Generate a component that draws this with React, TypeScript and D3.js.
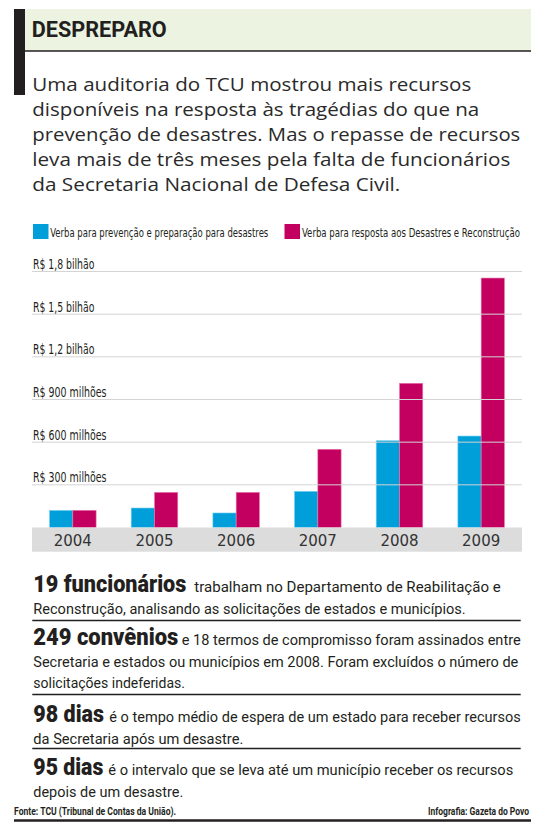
import React from 'react';
import * as d3 from 'd3';

const years = ['2004', '2005', '2006', '2007', '2008', '2009'];
const prevencao = [120, 137, 102, 254, 610, 643];
const resposta = [121, 247, 247, 550, 1014, 1754];
const yTicks = [300, 600, 900, 1200, 1500, 1800];
const yTickLabels = ['R$ 300 milhões', 'R$ 600 milhões', 'R$ 900 milhões', 'R$ 1,2 bilhão', 'R$ 1,5 bilhão', 'R$ 1,8 bilhão'];
const seriesNames = ['Verba para prevenção e preparação para desastres', 'Verba para resposta aos Desastres e Reconstrução'];
const seriesColors = ['#009fda', '#c3005f'];
const seriesStroke = ['#6fcdf0', '#e77aad'];

const title = 'DESPREPARO';
const introLines = [
  'Uma auditoria  do TCU mostrou mais recursos',
  'disponíveis na resposta às tragédias do que na',
  'prevenção de desastres. Mas o repasse de recursos',
  'leva mais de três meses pela falta de funcionários',
  'da Secretaria Nacional de Defesa Civil.',
];
const introWidths = [439, 447, 488, 478, 368];

const facts = [
  { bold: '19 funcionários', rest: 'trabalham no Departamento de Reabilitação e', more: ['Reconstrução, analisando as solicitações de estados e municípios.'] },
  { bold: '249 convênios', rest: 'e 18 termos de compromisso foram assinados entre', more: ['Secretaria e estados ou municípios em 2008. Foram excluídos o número de', 'solicitações indeferidas.'] },
  { bold: '98 dias', rest: 'é o tempo médio de espera de um estado para receber recursos', more: ['da Secretaria após um desastre.'] },
  { bold: '95 dias', rest: 'é o intervalo que se leva até um município receber os recursos', more: ['depois de um desastre.'] },
];
const factBoldW = [153, 145, 70.7, 70];
const factRestX = [194.3, 181.7, 109.3, 108.3];
const factRestEnd = [500.7, 520.7, 520.7, 513.3];
const factMoreW = [[432.4], [485, 151.7], [210], [150]];
const factY = [592.3, 645, 722, 775];
const sepY = [620.5, 694.5, 748.5];

const source = 'Fonte: TCU (Tribunal de Contas da União).';
const credit = 'Infografia: Gazeta do Povo';

const T = ({ x, y, w, size, weight = 400, family = 'Roboto', fill = '#231f20', anchor = 'start', children }: any) => (
  <text x={x} y={y} fontSize={size} fontWeight={weight} fontFamily={family} fill={fill} textAnchor={anchor}
    textLength={w} lengthAdjust={w ? 'spacingAndGlyphs' : undefined}>{children}</text>
);

export default function App() {
  const x0 = d3.scaleBand<string>().domain(years).range([32, 522]).paddingInner(0.43).paddingOuter(0.215);
  const x1 = d3.scaleBand<number>().domain([0, 1]).range([0, x0.bandwidth()]);
  const y = d3.scaleLinear().domain([0, 1800]).range([527.5, 271.5]);
  const series = [prevencao, resposta];

  return (
    <svg width={544} height={837} style={{ position: 'absolute', left: 0, top: 0, background: '#fff' }}>
      {/* header */}
      <rect x={25} y={9} width={506} height={42} fill="#ecf3e0" />
      <rect x={14} y={9} width={11} height={86} fill="#231f20" />
      <line x1={25} x2={531} y1={51} y2={51} stroke="#231f20" strokeWidth={1.5} />
      <T x={31.7} y={37.3} size={21.5} weight={700} w={135}>{title}</T>
      {introLines.map((l, i) => (
        <T key={i} x={32.3} y={90.5 + i * 25} size={19} family="'Open Sans'" fill="#2a2a2a" w={introWidths[i]}>{l}</T>
      ))}

      {/* legend */}
      {seriesNames.map((n, i) => (
        <g key={i}>
          <rect x={i === 0 ? 33 : 284.5} y={224} width={15.5} height={15} fill={seriesColors[i]} />
          <T x={i === 0 ? 50.3 : 302} y={237} size={13} family="'DejaVu Sans Condensed'" w={i === 0 ? 218 : 218}>{n}</T>
        </g>
      ))}

      {/* bars */}
      {years.map((yr, gi) => (
        <g key={yr} transform={`translate(${x0(yr)},0)`}>
          {series.map((s, si) => (
            <rect key={si} x={x1(si)} y={y(s[gi])} width={x1.bandwidth()} height={y(0) - y(s[gi])}
              fill={seriesColors[si]} stroke={seriesStroke[si]} strokeWidth={0.6} />
          ))}
        </g>
      ))}

      {/* gridlines + labels */}
      {yTicks.map((t, i) => (
        <g key={t}>
          <line x1={32} x2={522} y1={y(t)} y2={y(t)} stroke="#d4d4d4" strokeWidth={1} />
          <T x={33} y={y(t) - 2.5} size={14} family="'DejaVu Sans Condensed'" w={t >= 1200 ? 61.4 : 73.5}>{yTickLabels[i]}</T>
        </g>
      ))}

      {/* x axis band */}
      <rect x={32} y={y(0)} width={490} height={24.2} fill="#dcdcdc" />
      {years.map((yr) => (
        <T key={yr} x={(x0(yr) as number) + x0.bandwidth() / 2} y={546} size={15} family="'DejaVu Sans'" fill="#333" anchor="middle">{yr}</T>
      ))}

      {/* facts */}
      {facts.map((f, i) => (
        <g key={i}>
          <T x={33.3} y={factY[i]} size={23.5} weight={900} w={factBoldW[i]}>{f.bold}</T>
          <T x={factRestX[i]} y={factY[i]} size={15} w={factRestEnd[i] - factRestX[i]}>{f.rest}</T>
          {f.more.map((m, j) => (
            <T key={j} x={33.3} y={factY[i] + 21.5 * (j + 1)} size={15} w={factMoreW[i][j]}>{m}</T>
          ))}
        </g>
      ))}
      {sepY.map((s, i) => (
        <line key={i} x1={32.3} x2={520.7} y1={s} y2={s} stroke="#231f20" strokeWidth={1.3} />
      ))}

      {/* footer */}
      <T x={14} y={814.5} size={10} weight={700} w={162}>{source}</T>
      <T x={428} y={814.5} size={10} weight={700} w={101}>{credit}</T>
      <line x1={14} x2={531} y1={820.5} y2={820.5} stroke="#231f20" strokeWidth={2.5} />
    </svg>
  );
}
